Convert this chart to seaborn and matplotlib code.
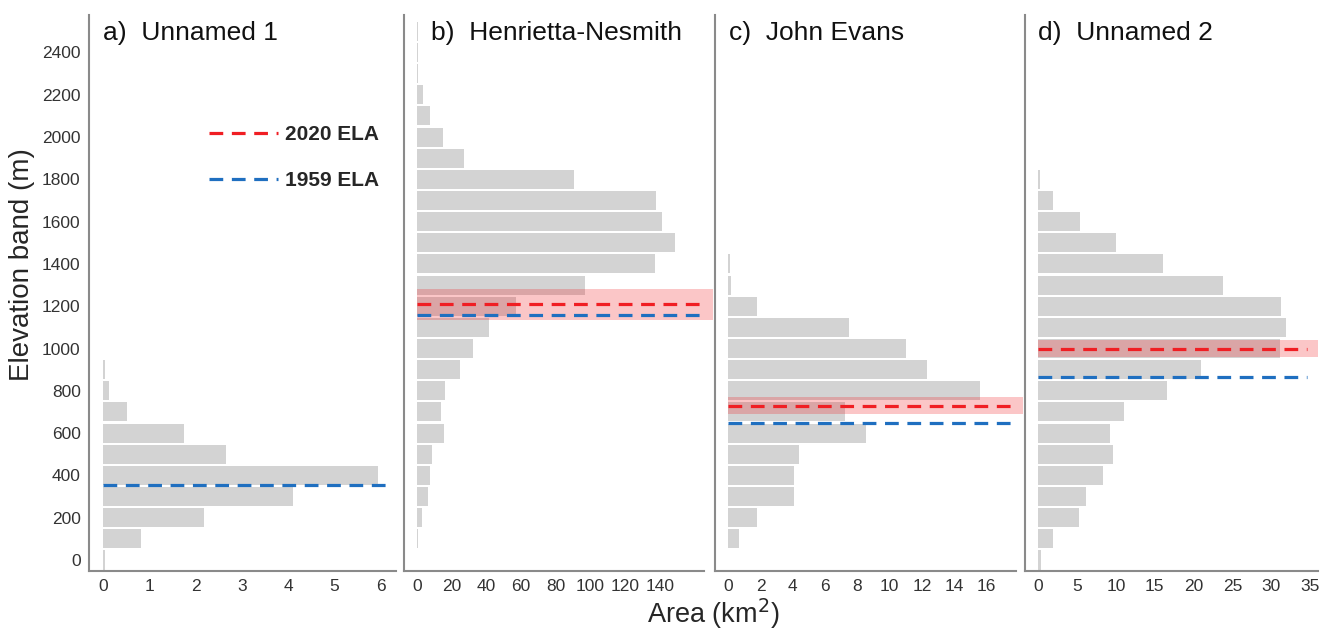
import pandas as pd
import matplotlib.pyplot as plt
import seaborn as sns
from matplotlib.lines import Line2D

# Area (km2) per 100 m elevation band
elev_a = [0, 100, 200, 300, 400, 500, 600, 700, 800, 900]
area_a = [0.05, 0.82, 2.18, 4.1, 5.93, 2.65, 1.76, 0.53, 0.14, 0.05]

elev_b = [100, 200, 300, 400, 500, 600, 700, 800, 900, 1000, 1100, 1200, 1300,
          1400, 1500, 1600, 1700, 1800, 1900, 2000, 2100, 2200, 2300, 2400, 2500]
area_b = [0.5, 2.9, 6.1, 7.7, 8.6, 15.7, 13.8, 16.3, 25.0, 32.2, 41.3, 57.0, 96.5,
          137.0, 148.7, 141.0, 137.8, 90.6, 26.9, 14.8, 7.3, 3.5, 0.8, 0.5, 0.3]

elev_c = [100, 200, 300, 400, 500, 600, 700, 800, 900, 1000, 1100, 1200, 1300, 1400]
area_c = [0.66, 1.8, 4.1, 4.1, 4.4, 8.5, 7.2, 15.6, 12.3, 11.0, 7.5, 1.8, 0.2, 0.1]

elev_d = [0, 100, 200, 300, 400, 500, 600, 700, 800, 900, 1000, 1100, 1200,
          1300, 1400, 1500, 1600, 1700, 1800]
area_d = [0.3, 1.85, 5.3, 6.1, 8.4, 9.6, 9.3, 11.1, 16.6, 20.9, 31.1, 31.9, 31.3,
          23.8, 16.0, 10.0, 5.4, 1.9, 0.2]

titles = ["a)  Unnamed 1", "b)  Henrietta-Nesmith", "c)  John Evans", "d)  Unnamed 2"]

# ELA values (m); None where not available
ela_2020 = [None, 1210, 730, 1000]
ela_2020_err = [None, 73, 41, 41]
ela_1959 = [355, 1160, 650, 865]

x_ticks = [list(range(0, 7)), list(range(0, 141, 20)), list(range(0, 17, 2)), list(range(0, 36, 5))]

sns.set_style("white")
plt.rcParams["font.family"] = ["Liberation Sans", "DejaVu Sans"]

RED = "#f01e23"
BLUE = "#1f6fc0"
GRAY = "#d3d3d3"

fig = plt.figure(figsize=(13.2, 6.3), dpi=100)

# panel geometry in pixels: left, right, xmin, xmax, spine end, line end
panels = [
    (89, 397, -0.3, 6.35, 6.32, 6.25),
    (404, 713, -7.5, 170.5, 165.3, 166.0),
    (715, 1023, -0.82, 18.25, 17.8, 17.85),
    (1025, 1318, -1.7, 36.0, 36.0, 34.6),
]
bottom, top = 571, 15

data = [(elev_a, area_a), (elev_b, area_b), (elev_c, area_c), (elev_d, area_d)]

for i, ((elev, area), (l, r, x0, x1, spine_end, line_end)) in enumerate(zip(data, panels)):
    ax = fig.add_axes([l / 1320, (630 - bottom) / 630, (r - l) / 1320, (bottom - top) / 630])
    df = pd.DataFrame({"Elevation": elev, "Area": area})
    sns.barplot(data=df, x="Area", y="Elevation", orient="h", native_scale=True,
                color=GRAY, saturation=1, width=0.9, linewidth=0, ax=ax, zorder=1)
    ax.set_xlim(x0, x1)
    ax.set_ylim(-52, 2577)

    if ela_2020[i] is not None:
        ax.fill_between([0, x1], ela_2020[i] - ela_2020_err[i], ela_2020[i] + ela_2020_err[i],
                        color=RED, alpha=0.25, linewidth=0, zorder=2)
        ax.plot([0, line_end], [ela_2020[i]] * 2, color=RED, lw=2.3, dashes=(4.3, 2.7), zorder=3)
    ax.plot([0, line_end], [ela_1959[i]] * 2, color=BLUE, lw=2.3, dashes=(4.3, 2.7), zorder=3)

    for s in ["top", "right"]:
        ax.spines[s].set_visible(False)
    for s in ["left", "bottom"]:
        ax.spines[s].set_color("#8a8a8a")
        ax.spines[s].set_linewidth(1.5)
    ax.spines["bottom"].set_bounds(x0, spine_end)

    ax.set_xticks(x_ticks[i])
    ax.tick_params(axis="both", length=0, labelsize=12.5, colors="#333333", pad=6)
    if i == 0:
        ax.set_yticks(range(0, 2401, 200))
        ax.set_ylabel("Elevation band (m)", fontsize=20)
        ax.yaxis.set_label_coords(-0.175, 0.552)
    else:
        ax.set_yticks([])
        ax.set_ylabel("")
    ax.set_xlabel("")

    tx = 0.045 if i != 1 else 0.087
    ax.text(tx, 0.99, titles[i], transform=ax.transAxes, fontsize=19,
            ha="left", va="top", color="#111111")

    if i == 0:
        handles = [Line2D([], [], color=RED, lw=2.3, dashes=(4.3, 2.7)),
                   Line2D([], [], color=BLUE, lw=2.3, dashes=(4.3, 2.7))]
        ax.legend(handles, ["2020 ELA", "1959 ELA"], loc="upper left",
                  bbox_to_anchor=(0.33, 0.836), frameon=False, handlelength=3.3,
                  labelspacing=1.3, handletextpad=0.35,
                  prop={"weight": "bold", "size": 15})

fig.text(713 / 1320, 1 - 614 / 630, "Area (km$^2$)", fontsize=19.5, ha="center", va="center")

plt.savefig("out.png", dpi=100)
